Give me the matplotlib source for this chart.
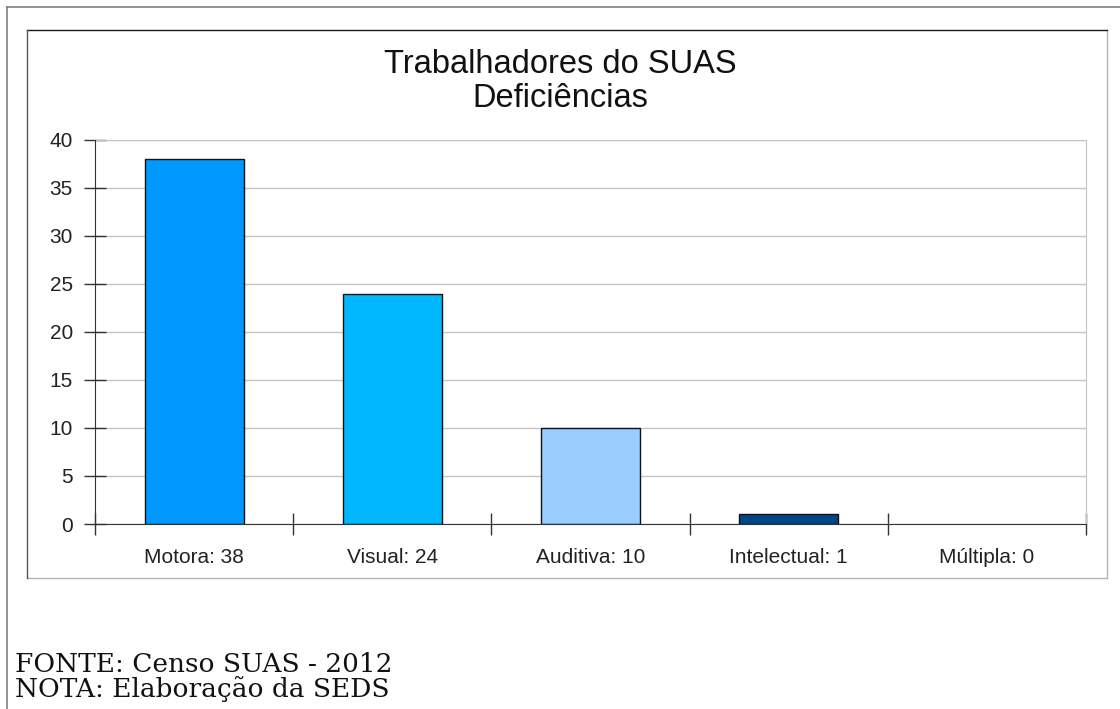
import matplotlib
matplotlib.use("Agg")
import matplotlib.pyplot as plt
from matplotlib.lines import Line2D

categories = ["Motora: 38", "Visual: 24", "Auditiva: 10", "Intelectual: 1", "Múltipla: 0"]
values = [38, 24, 10, 1, 0]
colors = ["#0099ff", "#00b8ff", "#99ccff", "#004586", "#ffffff"]
yticks = [0, 5, 10, 15, 20, 25, 30, 35, 40]
title_lines = ["Trabalhadores do SUAS", "Deficiências"]
footer_lines = ["FONTE: Censo SUAS - 2012", "NOTA: Elaboração da SEDS"]

W, H = 1120, 709
fig = plt.figure(figsize=(W / 100, H / 100), dpi=100)
fig.patch.set_facecolor("white")

def fx(px):
    return px / W

def fy(py):
    return 1 - py / H

# page border (top & left)
fig.add_artist(Line2D([fx(7), fx(W)], [fy(7), fy(7)], color="#808080", lw=1.2, transform=fig.transFigure))
fig.add_artist(Line2D([fx(7), fx(7)], [fy(7), fy(H)], color="#808080", lw=1.2, transform=fig.transFigure))

# chart box
fig.add_artist(Line2D([fx(27), fx(1107)], [fy(578), fy(578)], color="#b3b3b3", lw=1, transform=fig.transFigure))
fig.add_artist(Line2D([fx(1107), fx(1107)], [fy(30), fy(578)], color="#b3b3b3", lw=1, transform=fig.transFigure))
fig.add_artist(Line2D([fx(27), fx(1107)], [fy(30), fy(30)], color="#1a1a1a", lw=1, transform=fig.transFigure))
fig.add_artist(Line2D([fx(27), fx(27)], [fy(30), fy(578)], color="#555555", lw=1, transform=fig.transFigure))

# plot area
x0, x1, ytop, ybot = 95, 1086, 140, 524
ax = fig.add_axes([fx(x0), fy(ybot), fx(x1 - x0), (ybot - ytop) / H])
ax.set_facecolor("white")
n = len(categories)
xs = list(range(n))
edges = ["#111111" if v > 0 else "none" for v in values]
ax.bar(xs, values, width=0.5, color=colors, edgecolor=edges, linewidth=1, zorder=3)
ax.set_xlim(-0.5, n - 0.5)
ax.set_ylim(0, 40)
ax.set_yticks(yticks)
ax.set_yticklabels([str(v) for v in yticks], family="Liberation Sans")
ax.yaxis.grid(True, color="#c4c4c4", lw=1, zorder=0)
ax.set_axisbelow(True)

ax.set_xticks(xs)
ax.set_xticklabels(categories, family="Liberation Sans")
ax.set_xticks([i - 0.5 for i in range(n + 1)], minor=True)
ax.tick_params(axis="x", which="major", length=0, pad=17, labelsize=15, labelcolor="#222222")
ax.tick_params(axis="x", which="minor", length=16.5, direction="inout", width=1, color="#333333")
ax.tick_params(axis="y", which="major", length=16, direction="inout", width=1, color="#333333",
               pad=8, labelsize=15, labelcolor="#222222")
for s in ["top", "right"]:
    ax.spines[s].set_color("#c4c4c4")
for s in ["left", "bottom"]:
    ax.spines[s].set_color("#333333")
    ax.spines[s].set_zorder(4)

# title
fig.text(fx(560), fy(73), title_lines[0], ha="center", va="baseline",
         fontsize=23.5, family="Liberation Sans", color="#111111")
fig.text(fx(560), fy(107), title_lines[1], ha="center", va="baseline",
         fontsize=23.5, family="Liberation Sans", color="#111111")

# footer
fig.text(fx(15), fy(672), footer_lines[0], ha="left", va="baseline",
         fontsize=19, family="DejaVu Serif", color="#111111")
fig.text(fx(15), fy(697), footer_lines[1], ha="left", va="baseline",
         fontsize=19, family="DejaVu Serif", color="#111111")

fig.savefig("out.png", dpi=100, facecolor="white")
